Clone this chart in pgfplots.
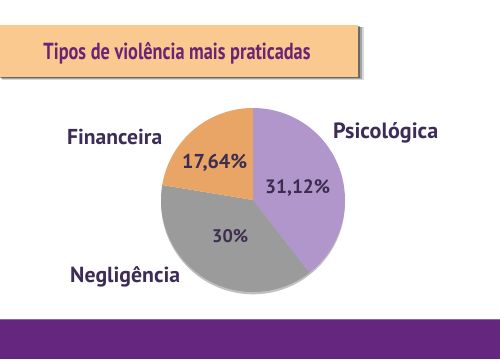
\documentclass[border=0pt]{standalone}
\usepackage{pgfplots}
\pgfplotsset{compat=1.18}
\usepackage{fontspec}
\setmainfont{PT Sans}
\definecolor{psy}{HTML}{B196CC}
\definecolor{neg}{HTML}{9B9B9B}
\definecolor{fin}{HTML}{E8A566}
\definecolor{banner}{HTML}{FAC98F}
\definecolor{titlec}{HTML}{6A2475}
\definecolor{labc}{HTML}{3E2C58}
\definecolor{pctc}{HTML}{3D2D4F}
\definecolor{band}{HTML}{64267E}
\begin{document}
\begin{tikzpicture}[x=1pt,y=1pt]
% data (percent)
\pgfmathsetmacro{\vP}{31.12}
\pgfmathsetmacro{\vN}{30}
\pgfmathsetmacro{\vF}{17.64}
\pgfmathsetmacro{\tot}{\vP+\vN+\vF}
\pgfmathsetmacro{\aA}{90}
\pgfmathsetmacro{\aB}{90-360*\vP/\tot}
\pgfmathsetmacro{\aC}{\aB-360*\vN/\tot}
\pgfmathsetmacro{\aD}{\aC-360*\vF/\tot}
% background
\fill[white] (0,0) rectangle (500,359);
% bottom band
\fill[band] (0,0) rectangle (500,39);
\fill[band!70!white] (0,39) rectangle (500,40);
% banner shadow
\fill[black,opacity=0.15] (2,279) rectangle (364,332);
\fill[black,opacity=0.25] (1,280) rectangle (362,332);
\fill[black,opacity=0.35] (0,281) rectangle (360,333);
\fill[banner] (0,282) rectangle (358,334);
\node[anchor=base,text=titlec,inner sep=0pt] at (177,299)
  {\resizebox{267pt}{17pt}{\bfseries Tipos de violência mais praticadas}};
\begin{axis}[at={(253pt,159pt)},anchor=center,scale only axis,
  width=184pt,height=184pt,xmin=-1,xmax=1,ymin=-1,ymax=1,hide axis,clip=false]
\addplot[fill=black,opacity=0.25,draw=none,domain=-180:0,samples=80,variable=\t]
  ({cos(\t)},{sin(\t)-0.025}) -- cycle;
\addplot[fill=psy,draw=none,domain=\aB:\aA,samples=80,variable=\t]
  ({cos(\t)},{sin(\t)}) -- (axis cs:0,0) -- cycle;
\addplot[fill=neg,draw=none,domain=\aC:\aB,samples=80,variable=\t]
  ({cos(\t)},{sin(\t)}) -- (axis cs:0,0) -- cycle;
\addplot[fill=fin,draw=none,domain=\aD:\aC,samples=80,variable=\t]
  ({cos(\t)},{sin(\t)}) -- (axis cs:0,0) -- cycle;
\end{axis}
% category labels
\node[anchor=base west,text=labc,inner sep=0pt] at (67,214)
  {\resizebox{95pt}{!}{\bfseries Financeira}};
\node[anchor=base west,text=labc,inner sep=0pt] at (333,220)
  {\resizebox{105pt}{!}{\bfseries Psicológica}};
\node[anchor=base west,text=labc,inner sep=0pt] at (70,77)
  {\resizebox{110pt}{!}{\bfseries Negligência}};
% percentages
\node[anchor=base west,text=pctc,inner sep=0pt] at (182,190)
  {\resizebox{65pt}{!}{\bfseries 17,64\%}};
\node[anchor=base west,text=pctc,inner sep=0pt] at (265,165)
  {\resizebox{65pt}{!}{\bfseries 31,12\%}};
\node[anchor=base west,text=pctc,inner sep=0pt] at (212,117)
  {\resizebox{36pt}{!}{\bfseries 30\%}};
\end{tikzpicture}
\end{document}
